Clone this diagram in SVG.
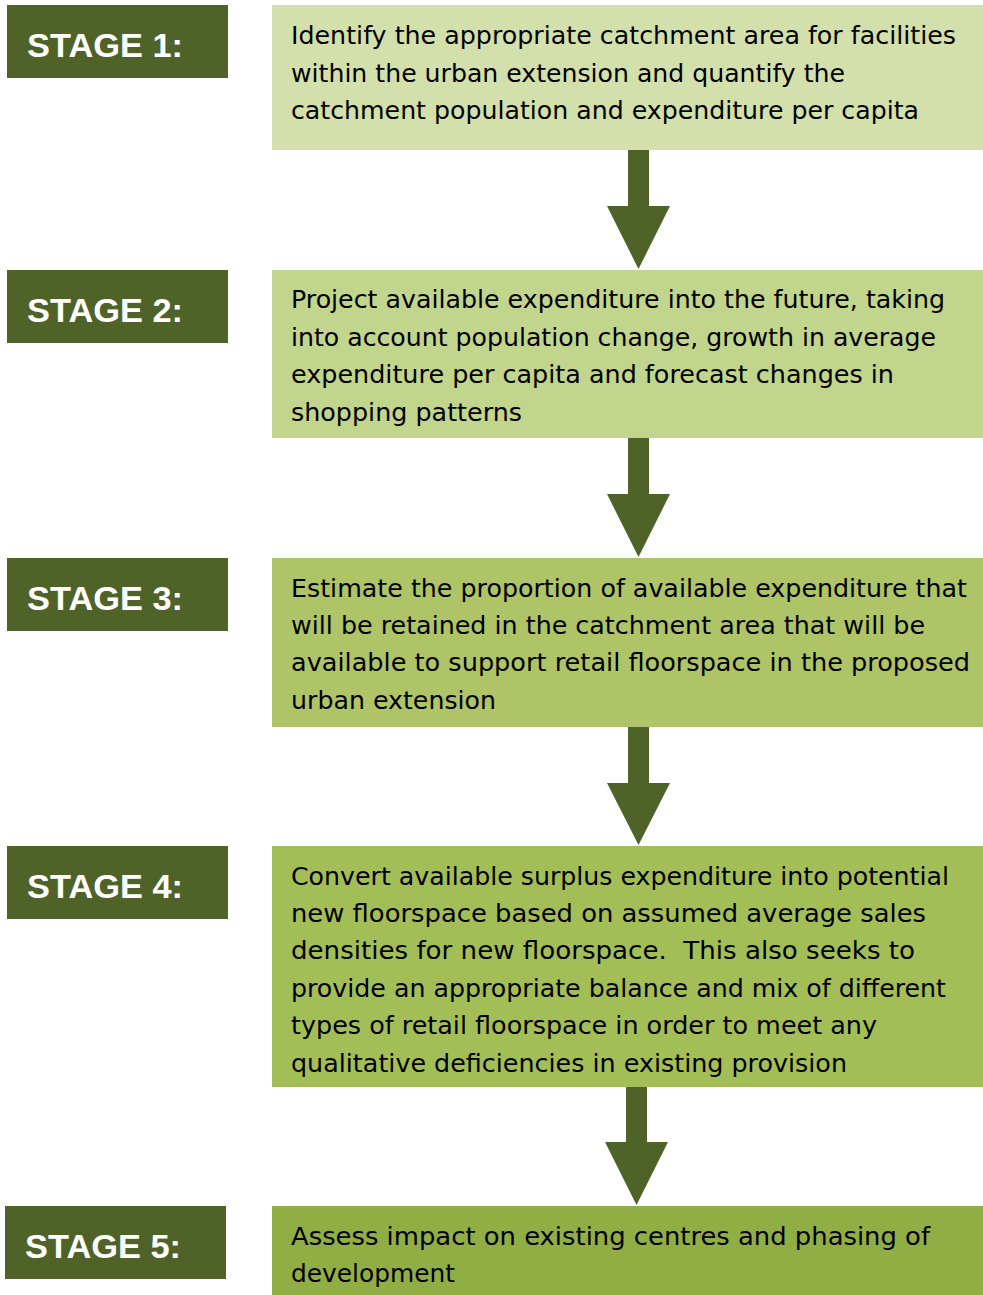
<svg xmlns="http://www.w3.org/2000/svg" width="983" height="1295" viewBox="0 0 983 1295">
  <style>
    .label-bg { fill: #4f6228; }
    .label { font-family: "Liberation Sans", Arial, sans-serif; font-weight: bold; font-size: 34px; fill: #ffffff; }
    .body { font-family: "DejaVu Sans", "Liberation Sans", sans-serif; font-size: 24.5px; fill: #000000; }
    .arrow { fill: #4f6228; }
  </style>
  <rect width="983" height="1295" fill="#ffffff"/>

  <!-- Stage 1 -->
  <g id="stage1">
    <rect class="label-bg" x="7" y="5" width="221" height="73"/>
    <text class="label" x="27" y="57" textLength="156" lengthAdjust="spacingAndGlyphs">STAGE 1:</text>
    <rect x="272" y="5" width="711" height="145" fill="#d3e0ab"/>
    <text class="body" x="291" y="44" textLength="665" lengthAdjust="spacingAndGlyphs">Identify the appropriate catchment area for facilities</text>
    <text class="body" x="291" y="81.5" textLength="554" lengthAdjust="spacingAndGlyphs">within the urban extension and quantify the</text>
    <text class="body" x="291" y="119" textLength="628" lengthAdjust="spacingAndGlyphs">catchment population and expenditure per capita</text>
  </g>

  <!-- Stage 2 -->
  <g id="stage2">
    <rect class="label-bg" x="7" y="270" width="221" height="73"/>
    <text class="label" x="27" y="322" textLength="156" lengthAdjust="spacingAndGlyphs">STAGE 2:</text>
    <rect x="272" y="270" width="711" height="168" fill="#c2d58c"/>
    <text class="body" x="291" y="308" textLength="654" lengthAdjust="spacingAndGlyphs">Project available expenditure into the future, taking</text>
    <text class="body" x="291" y="346" textLength="645" lengthAdjust="spacingAndGlyphs">into account population change, growth in average</text>
    <text class="body" x="291" y="383" textLength="603" lengthAdjust="spacingAndGlyphs">expenditure per capita and forecast changes in</text>
    <text class="body" x="291" y="421" textLength="231" lengthAdjust="spacingAndGlyphs">shopping patterns</text>
  </g>

  <!-- Stage 3 -->
  <g id="stage3">
    <rect class="label-bg" x="7" y="558" width="221" height="73"/>
    <text class="label" x="27" y="610" textLength="156" lengthAdjust="spacingAndGlyphs">STAGE 3:</text>
    <rect x="272" y="558" width="711" height="169" fill="#aec467"/>
    <text class="body" x="291" y="597" textLength="676" lengthAdjust="spacingAndGlyphs">Estimate the proportion of available expenditure that</text>
    <text class="body" x="291" y="634" textLength="634" lengthAdjust="spacingAndGlyphs">will be retained in the catchment area that will be</text>
    <text class="body" x="291" y="671" textLength="679" lengthAdjust="spacingAndGlyphs">available to support retail floorspace in the proposed</text>
    <text class="body" x="291" y="709" textLength="205" lengthAdjust="spacingAndGlyphs">urban extension</text>
  </g>

  <!-- Stage 4 -->
  <g id="stage4">
    <rect class="label-bg" x="7" y="846" width="221" height="73"/>
    <text class="label" x="27" y="898" textLength="156" lengthAdjust="spacingAndGlyphs">STAGE 4:</text>
    <rect x="272" y="846" width="711" height="241" fill="#a3be57"/>
    <text class="body" x="291" y="885" textLength="658" lengthAdjust="spacingAndGlyphs">Convert available surplus expenditure into potential</text>
    <text class="body" x="291" y="922" textLength="635" lengthAdjust="spacingAndGlyphs">new floorspace based on assumed average sales</text>
    <text class="body" x="291" y="959" textLength="624" lengthAdjust="spacingAndGlyphs" xml:space="preserve">densities for new floorspace.  This also seeks to</text>
    <text class="body" x="291" y="997" textLength="655" lengthAdjust="spacingAndGlyphs">provide an appropriate balance and mix of different</text>
    <text class="body" x="291" y="1034" textLength="586" lengthAdjust="spacingAndGlyphs">types of retail floorspace in order to meet any</text>
    <text class="body" x="291" y="1072" textLength="556" lengthAdjust="spacingAndGlyphs">qualitative deficiencies in existing provision</text>
  </g>

  <!-- Stage 5 -->
  <g id="stage5">
    <rect class="label-bg" x="5" y="1206" width="221" height="73"/>
    <text class="label" x="25" y="1258" textLength="156" lengthAdjust="spacingAndGlyphs">STAGE 5:</text>
    <rect x="272" y="1206" width="711" height="89" fill="#91ae45"/>
    <text class="body" x="291" y="1245" textLength="639" lengthAdjust="spacingAndGlyphs">Assess impact on existing centres and phasing of</text>
    <text class="body" x="291" y="1282" textLength="164" lengthAdjust="spacingAndGlyphs">development</text>
  </g>

  <!-- Downward block arrows between stages -->
  <g id="connectors">
    <polygon class="arrow" points="628,150 649,150 649,206 670,206 638.5,269 607,206 628,206"/>
    <polygon class="arrow" points="628,438 649,438 649,494 670,494 638.5,557 607,494 628,494"/>
    <polygon class="arrow" points="628,727 649,727 649,783 670,783 638.5,845 607,783 628,783"/>
    <polygon class="arrow" points="626,1087 647,1087 647,1142 668,1142 636.5,1205 605,1142 626,1142"/>
  </g>
</svg>
